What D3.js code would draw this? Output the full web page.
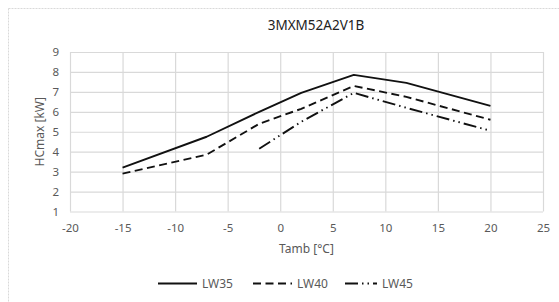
<!DOCTYPE html>
<html>
<head>
<meta charset="utf-8">
<script src="https://cdn.jsdelivr.net/npm/d3@7"></script>
<style>
  body { margin: 0; background: #fff; }
  svg { display: block; font-family: "Noto Sans", sans-serif; }
</style>
</head>
<body>
<div id="vis"></div>
<script>
// values
const title = "3MXM52A2V1B";
const xTicks = [-20, -15, -10, -5, 0, 5, 10, 15, 20, 25];
const yTicks = [1, 2, 3, 4, 5, 6, 7, 8, 9];
const tempsA = [-15, -7, -2, 2, 7, 12, 20];
const lw35 = [3.2, 4.75, 6.0, 6.95, 7.85, 7.45, 6.3];
const lw40 = [2.9, 3.85, 5.4, 6.15, 7.3, 6.75, 5.6];
const tempsB = [-2, 2, 7, 12, 20];
const lw45 = [4.15, 5.5, 6.95, 6.2, 5.05];
const seriesNames = ["LW35", "LW40", "LW45"];

let width = 559, height = 302;
let margin = { top: 52, left: 70, right: 16, bottom: 90.5 };

let svg = d3.select('#vis')
  .append('svg')
  .attr('width', width)
  .attr('height', height);

// chart border
svg.append('rect')
  .attr('x', 8.5).attr('y', 8.5)
  .attr('width', 570).attr('height', 310)
  .attr('fill', 'none')
  .attr('stroke', '#d9d9d9')
  .attr('stroke-dasharray', '2,1');

let x = d3.scaleLinear().domain([-20, 25]).range([margin.left, width - margin.right]);
let y = d3.scaleLinear().domain([1, 9]).range([height - margin.bottom, margin.top]);

let gx = svg.append('g')
  .attr('transform', `translate(0, ${y(1)})`)
  .call(d3.axisBottom(x).tickValues(xTicks).tickFormat(d => String(d))
    .tickSizeInner(-(y(1) - y(9))).tickSizeOuter(0).tickPadding(12.5));
let gy = svg.append('g')
  .attr('transform', `translate(${x(-20)}, 0)`)
  .call(d3.axisLeft(y).tickValues(yTicks).tickFormat(d => String(d))
    .tickSizeInner(-(x(25) - x(-20))).tickSizeOuter(0).tickPadding(11));

[gx, gy].forEach(g => {
  g.select('.domain').remove();
  g.selectAll('line').attr('stroke', '#d9d9d9').attr('stroke-width', 1.2);
  g.selectAll('text').attr('fill', '#595959').style('font-size', '11.5px').style('font-family', '"Noto Sans", sans-serif');
});

// titles
svg.append('text')
  .attr('x', 316).attr('y', 30)
  .attr('text-anchor', 'middle')
  .style('font-size', '13.5px')
  .attr('fill', '#222')
  .text(title);

svg.append('text')
  .attr('x', (x(-20) + x(25)) / 2).attr('y', 252.5)
  .attr('text-anchor', 'middle')
  .style('font-size', '12px')
  .attr('fill', '#595959')
  .text('Tamb [°C]');

svg.append('text')
  .attr('transform', `translate(44, ${(y(1) + y(9)) / 2}) rotate(-90)`)
  .attr('text-anchor', 'middle')
  .style('font-size', '12px')
  .attr('fill', '#595959')
  .text('HCmax [kW]');

let dashes = ['none', '8,4.5', '13,4,1.5,4,1.5,4'];
let series = [
  { name: seriesNames[0], pts: tempsA.map((t, i) => [t, lw35[i]]) },
  { name: seriesNames[1], pts: tempsA.map((t, i) => [t, lw40[i]]) },
  { name: seriesNames[2], pts: tempsB.map((t, i) => [t, lw45[i]]) }
];

let line = d3.line().x(d => x(d[0])).y(d => y(d[1]));

svg.append('g')
  .selectAll('path')
  .data(series)
  .join('path')
  .attr('d', d => line(d.pts))
  .attr('fill', 'none')
  .attr('stroke', '#111')
  .attr('stroke-width', 1.9)
  .attr('stroke-linejoin', 'round')
  .attr('stroke-dasharray', (d, i) => dashes[i]);

// legend
let legX = [158, 253, 345];
let legend = svg.append('g')
  .selectAll('g')
  .data(series)
  .join('g')
  .attr('transform', (d, i) => `translate(${legX[i]}, 283.5)`);
legend.append('line')
  .attr('x1', 0).attr('x2', (d, i) => i == 2 ? 32 : 39)
  .attr('stroke', '#111')
  .attr('stroke-width', 1.9)
  .attr('stroke-dasharray', (d, i) => dashes[i]);
legend.append('text')
  .attr('x', (d, i) => i == 2 ? 37 : 44)
  .attr('dy', '0.35em')
  .style('font-size', '12px')
  .attr('fill', '#595959')
  .text(d => d.name);
</script>
</body>
</html>
